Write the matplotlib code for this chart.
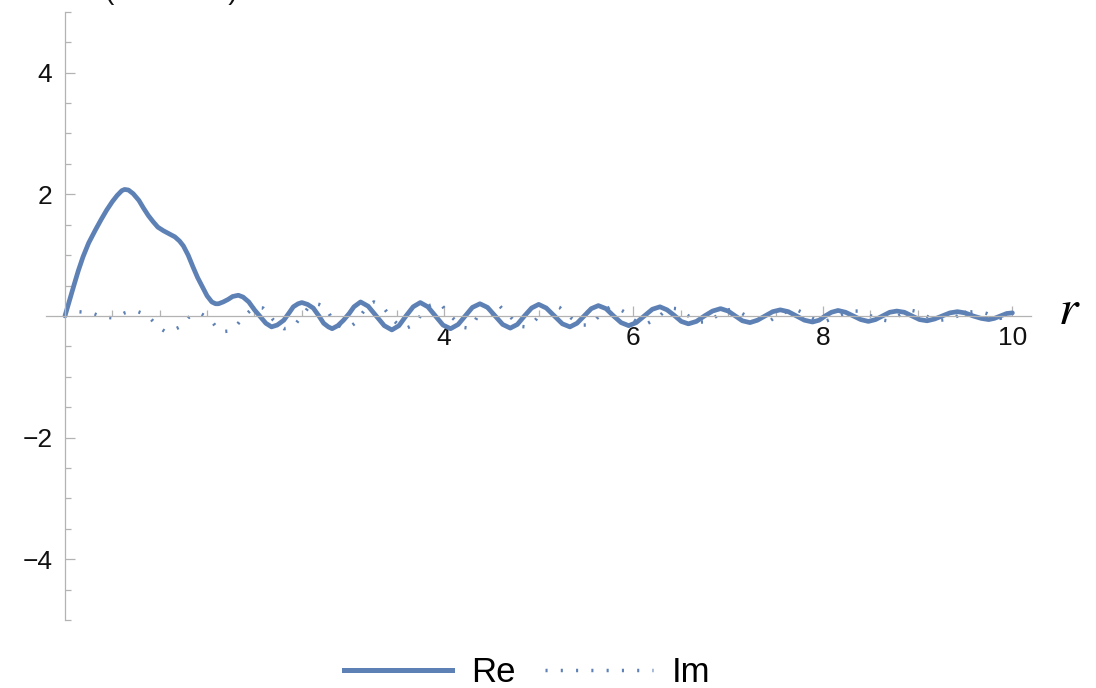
import matplotlib
matplotlib.use("Agg")
import matplotlib.pyplot as plt
from matplotlib.lines import Line2D
import numpy as np

plt.rcParams["font.family"] = ["Liberation Sans", "DejaVu Sans"]

# ---- data ----
re_x = [0.00, 0.05, 0.09, 0.14, 0.19, 0.25, 0.32, 0.38, 0.44, 0.50, 0.55, 0.60, 0.63, 0.67,
        0.72, 0.78, 0.83, 0.88, 0.93, 0.98, 1.04, 1.10, 1.16, 1.21, 1.25, 1.30, 1.35, 1.40,
        1.46, 1.50, 1.55, 1.59, 1.62, 1.67, 1.72, 1.77, 1.83, 1.88, 1.94, 2.00, 2.06, 2.12,
        2.18, 2.24, 2.31, 2.37, 2.41, 2.46, 2.50, 2.56, 2.62, 2.68, 2.73, 2.78, 2.82, 2.88,
        2.94, 3.00, 3.05, 3.12, 3.20, 3.285, 3.37, 3.45, 3.525, 3.60, 3.675, 3.75, 3.83, 3.91,
        3.99, 4.07, 4.15, 4.225, 4.30, 4.38, 4.46, 4.54, 4.62, 4.70, 4.775, 4.85, 4.925, 5.00,
        5.08, 5.165, 5.25, 5.33, 5.405, 5.48, 5.555, 5.63, 5.71, 5.79, 5.87, 5.95, 6.03, 6.115,
        6.20, 6.28, 6.355, 6.43, 6.505, 6.58, 6.665, 6.75, 6.835, 6.92, 7.00, 7.075, 7.15, 7.23,
        7.31, 7.39, 7.47, 7.55, 7.635, 7.72, 7.805, 7.89, 7.96, 8.025, 8.09, 8.16, 8.24, 8.32,
        8.40, 8.48, 8.555, 8.63, 8.705, 8.78, 8.86, 8.94, 9.02, 9.10, 9.18, 9.26, 9.34, 9.42,
        9.50, 9.585, 9.67, 9.75, 9.81, 9.875, 9.94, 10.00]
re_y = [0.00, 0.27, 0.48, 0.74, 0.97, 1.20, 1.41, 1.58, 1.74, 1.88, 1.98, 2.06, 2.08, 2.07,
        2.01, 1.90, 1.77, 1.65, 1.55, 1.46, 1.40, 1.35, 1.30, 1.23, 1.15, 1.00, 0.81, 0.63,
        0.45, 0.33, 0.23, 0.20, 0.20, 0.23, 0.27, 0.32, 0.34, 0.31, 0.23, 0.10, -0.01, -0.12,
        -0.18, -0.15, -0.07, 0.06, 0.15, 0.20, 0.22, 0.19, 0.13, 0.00, -0.12, -0.18, -0.21, -0.16,
        -0.07, 0.04, 0.15, 0.23, 0.16, 0.00, -0.16, -0.23, -0.16, 0.00, 0.15, 0.22, 0.15, 0.00,
        -0.15, -0.21, -0.14, 0.00, 0.14, 0.20, 0.14, 0.00, -0.14, -0.20, -0.14, 0.00, 0.13, 0.19,
        0.13, 0.00, -0.13, -0.18, -0.12, 0.00, 0.12, 0.17, 0.12, 0.00, -0.11, -0.16, -0.11, 0.00,
        0.11, 0.15, 0.10, 0.01, -0.09, -0.13, -0.09, 0.00, 0.08, 0.12, 0.08, 0.00, -0.08, -0.11,
        -0.07, 0.00, 0.07, 0.10, 0.07, 0.00, -0.07, -0.10, -0.07, 0.00, 0.06, 0.09, 0.06, 0.00,
        -0.06, -0.09, -0.06, 0.00, 0.06, 0.08, 0.06, 0.00, -0.06, -0.08, -0.05, 0.00, 0.05, 0.07,
        0.05, 0.00, -0.04, -0.06, -0.04, 0.00, 0.04, 0.05]

im_x = [0.00, 0.07, 0.14, 0.21, 0.28, 0.35, 0.42, 0.49, 0.56, 0.63, 0.70, 0.77, 0.84, 0.90,
        0.95, 1.00, 1.06, 1.13, 1.20, 1.25, 1.30, 1.36, 1.43, 1.49, 1.55, 1.60, 1.65, 1.72,
        1.78, 1.83, 1.88, 1.95, 2.02, 2.09, 2.15, 2.20, 2.26, 2.31, 2.37, 2.43, 2.48, 2.52,
        2.57, 2.62, 2.68, 2.75, 2.79, 2.83, 2.88, 2.94, 3.00, 3.06, 3.10, 3.15, 3.20, 3.26,
        3.32, 3.38, 3.43, 3.48, 3.53, 3.59, 3.65, 3.71, 3.75, 3.80, 3.86, 3.92, 3.98, 4.03,
        4.09, 4.15, 4.21, 4.26, 4.31, 4.35, 4.41, 4.47, 4.53, 4.59, 4.64, 4.70, 4.75, 4.80,
        4.86, 4.92, 4.97, 5.03, 5.10, 5.16, 5.22, 5.28, 5.34, 5.40, 5.47, 5.53, 5.59, 5.65,
        5.70, 5.76, 5.83, 5.90, 5.96, 6.02, 6.08, 6.14, 6.20, 6.27, 6.33, 6.39, 6.45, 6.51,
        6.58, 6.64, 6.71, 6.78, 6.84, 6.90, 6.97, 7.04, 7.10, 7.16, 7.23, 7.30, 7.37, 7.44,
        7.52, 7.59, 7.65, 7.71, 7.78, 7.85, 7.92, 7.98, 8.04, 8.11, 8.18, 8.25, 8.32, 8.39,
        8.46, 8.53, 8.60, 8.68, 8.75, 8.82, 8.88, 8.94, 9.00, 9.06, 9.13, 9.20, 9.24, 9.31,
        9.38, 9.45, 9.52, 9.59, 9.66, 9.73, 9.80, 9.87, 9.94, 10.00]
im_y = [0.00, 0.05, 0.07, 0.06, 0.05, 0.01, -0.02, -0.03, -0.01, 0.05, 0.08, 0.07, 0.03, -0.04,
        -0.12, -0.20, -0.26, -0.24, -0.19, -0.11, -0.03, 0.03, 0.04, -0.01, -0.09, -0.19, -0.26, -0.25,
        -0.21, -0.12, -0.02, 0.08, 0.14, 0.13, 0.04, -0.07, -0.16, -0.21, -0.20, -0.14, -0.04, 0.04,
        0.14, 0.21, 0.19, 0.13, 0.03, -0.07, -0.15, -0.20, -0.19, -0.12, -0.03, 0.07, 0.17, 0.23,
        0.19, 0.10, 0.00, -0.09, -0.16, -0.21, -0.17, -0.09, 0.00, 0.10, 0.18, 0.21, 0.17, 0.07,
        -0.03, -0.12, -0.19, -0.20, -0.13, -0.02, 0.08, 0.15, 0.18, 0.16, 0.08, -0.01, -0.10, -0.17,
        -0.18, -0.14, -0.06, 0.07, 0.15, 0.18, 0.14, 0.06, -0.03, -0.10, -0.15, -0.15, -0.08, 0.02,
        0.10, 0.15, 0.13, 0.07, -0.02, -0.08, -0.12, -0.13, -0.08, -0.01, 0.08, 0.13, 0.12, 0.07,
        0.00, -0.06, -0.10, -0.10, -0.04, 0.02, 0.09, 0.11, 0.08, 0.03, -0.03, -0.07, -0.09, -0.08,
        0.00, 0.05, 0.10, 0.11, 0.06, -0.01, -0.06, -0.08, -0.08, -0.04, 0.01, 0.05, 0.08, 0.08,
        0.04, -0.02, -0.06, -0.08, -0.04, 0.02, 0.07, 0.09, 0.07, 0.02, -0.03, -0.06, -0.07, -0.06,
        -0.03, 0.02, 0.06, 0.07, 0.07, 0.04, -0.01, -0.04, -0.02, 0.01]

x_major = [2, 4, 6, 8, 10]
x_major_labels = ["", "4", "6", "8", "10"]
x_minor = [0.5, 1, 1.5, 2.5, 3, 3.5, 4.5, 5, 5.5, 6.5, 7, 7.5, 8.5, 9, 9.5]
y_major = [-4, -2, 2, 4]
y_minor = [-5, -4.5, -3.5, -3, -2.5, -1.5, -1, -0.5, 0.5, 1, 1.5, 2.5, 3, 3.5, 4.5, 5]

BLUE = "#5e81b5"
AXIS = "#b3b3b3"
IM_STYLE = (0, (0.6, 3.8))

fig = plt.figure(figsize=(10.96, 6.88), dpi=100)
ax = fig.add_axes([0.042, 0.0988, 0.899, 0.884])

ax.plot(re_x, re_y, color=BLUE, lw=3.4, solid_capstyle="round", solid_joinstyle="round")
ax.plot(im_x, im_y, color=BLUE, lw=2.5, linestyle=IM_STYLE, dash_capstyle="butt")

ax.set_xlim(-0.2, 10.2)
ax.set_ylim(-5, 5)

for s in ["top", "right"]:
    ax.spines[s].set_visible(False)
ax.spines["left"].set_position(("data", 0))
ax.spines["bottom"].set_position(("data", 0))
for s in ["left", "bottom"]:
    ax.spines[s].set_color(AXIS)
    ax.spines[s].set_linewidth(0.9)

ax.set_xticks(x_major)
ax.set_xticklabels(x_major_labels)
ax.set_xticks(x_minor, minor=True)
ax.set_yticks(y_major)
ax.set_yticks(y_minor, minor=True)

ax.tick_params(axis="both", which="major", direction="in", length=7, width=0.9,
               color=AXIS, labelsize=19, labelcolor="#111111")
ax.tick_params(axis="both", which="minor", direction="in", length=4, width=0.9,
               color=AXIS)
ax.tick_params(axis="x", which="major", pad=7)
ax.tick_params(axis="y", which="major", pad=9)

# axis label for r, to the right of the x-axis
fig.text(0.976, 0.548, r"$r$", fontsize=36, ha="center", va="center",
         math_fontfamily="stix")

# y label, cut off by the top edge as in the picture
fig.text(0.096, 1.0 + 1.0 / 688, "(arb. units)", fontsize=20, ha="left",
         va="baseline", color="#111111")

handles = [Line2D([], [], color=BLUE, lw=3.6),
           Line2D([], [], color=BLUE, lw=2.5, linestyle=IM_STYLE)]
fig.legend(handles, ["Re", "Im"], loc="center", bbox_to_anchor=(0.481, 0.022),
           ncol=2, frameon=False, fontsize=25, handlelength=3.1,
           handletextpad=0.55, columnspacing=0.85, borderaxespad=0)

fig.savefig("out.png", dpi=100)
